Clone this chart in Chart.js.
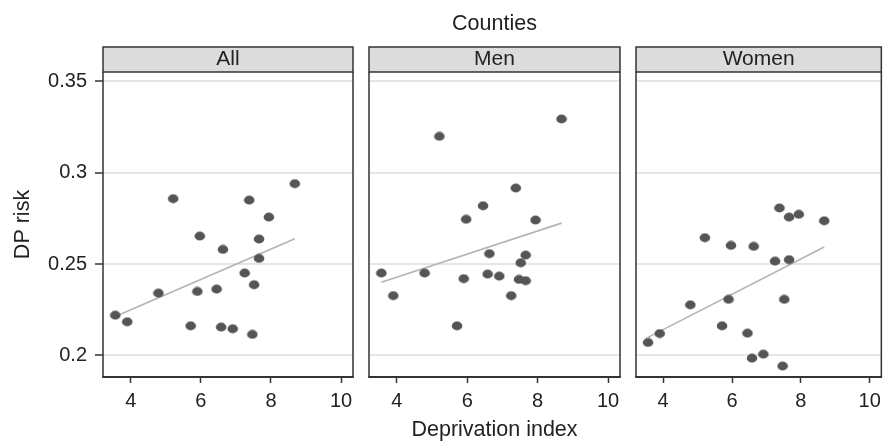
<!DOCTYPE html>
<html>
<head>
<meta charset="utf-8">
<script src="https://cdn.jsdelivr.net/npm/chart.js@4.4.1/dist/chart.umd.min.js"></script>
<style>
  html, body { margin: 0; padding: 0; background: #fff; }
  #wrap { position: relative; width: 887px; height: 443px; overflow: hidden; }
  #wrap canvas { position: absolute; top: 0; }
</style>
</head>
<body>
<div id="wrap">
  <canvas id="pAll" width="360" height="443" style="left:0px"></canvas>
  <canvas id="pMen" width="267" height="443" style="left:360px"></canvas>
  <canvas id="pWomen" width="260" height="443" style="left:627px"></canvas>
</div>
<script>
// Deprivation index of each county (shared by all three panels)
const deprivation = [3.56, 3.90, 4.79, 5.21, 5.71, 5.90, 5.97, 6.45, 6.58, 6.63,
                     6.91, 7.25, 7.38, 7.47, 7.52, 7.66, 7.66, 7.94, 8.68];

// DP risk per county
const riskAll   = [0.2220, 0.2184, 0.2341, 0.2858, 0.2162, 0.2350, 0.2653, 0.2363, 0.2155, 0.2580,
                   0.2146, 0.2451, 0.2850, 0.2115, 0.2387, 0.2637, 0.2531, 0.2757, 0.2940];
const riskMen   = [0.2451, 0.2327, 0.2451, 0.3199, 0.2162, 0.2420, 0.2745, 0.2819, 0.2445, 0.2557,
                   0.2434, 0.2327, 0.2916, 0.2416, 0.2507, 0.2549, 0.2409, 0.2741, 0.3294];
const riskWomen = [0.2071, 0.2120, 0.2277, 0.2644, 0.2162, 0.2307, 0.2602, 0.2122, 0.1985, 0.2597,
                   0.2007, 0.2516, 0.2807, 0.1942, 0.2307, 0.2757, 0.2524, 0.2772, 0.2737];

// Fitted line end points (x, y)
const fitAll   = [[3.56, 0.2213], [8.68, 0.2639]];
const fitMen   = [[3.56, 0.2401], [8.68, 0.2724]];
const fitWomen = [[3.56, 0.2099], [8.68, 0.2593]];

// Panel names and axis ticks
const panelNames   = ['All', 'Men', 'Women'];
const xTickValues  = [4, 6, 8, 10];
const yTickValues  = [0.2, 0.25, 0.3, 0.35];
const yTickLabels  = ['0.2', '0.25', '0.3', '0.35'];

const FONT = '"Liberation Sans", Arial, Helvetica, sans-serif';
const TEXT = '#222222';
const FRAME = '#333333';

// slightly flattened dot used as the marker
const dot = document.createElement('canvas');
dot.width = 12; dot.height = 10;
(function () {
  const g = dot.getContext('2d');
  g.fillStyle = '#555555';
  g.beginPath();
  g.ellipse(6, 5, 5.3, 4.4, 0, 0, Math.PI * 2);
  g.fill();
})();

// strip header, panel box and optional overall title
const panelFrame = {
  id: 'panelFrame',
  afterDatasetsDraw(chart, args, opts) {
    const { ctx, chartArea: a } = chart;
    ctx.save();
    const top = a.top - 25;
    ctx.fillStyle = '#dcdcdc';
    ctx.fillRect(a.left, top, a.right - a.left, a.top - top);
    ctx.strokeStyle = FRAME;
    ctx.lineWidth = 1.5;
    ctx.strokeRect(a.left, top, a.right - a.left, a.top - top);

    ctx.fillStyle = TEXT;
    ctx.font = '21px ' + FONT;
    ctx.textAlign = 'center';
    ctx.textBaseline = 'alphabetic';
    ctx.fillText(opts.label, (a.left + a.right) / 2, a.top - 7.5);

    ctx.beginPath();
    ctx.moveTo(a.left, a.top); ctx.lineTo(a.left, a.bottom);
    ctx.moveTo(a.right, a.top); ctx.lineTo(a.right, a.bottom);
    ctx.stroke();

    ctx.lineWidth = 2;
    ctx.beginPath();
    ctx.moveTo(a.left - 0.75, a.bottom); ctx.lineTo(a.right + 0.75, a.bottom);
    ctx.stroke();

    if (opts.title) {
      ctx.fillStyle = TEXT;
      ctx.font = '21.5px ' + FONT;
      ctx.fillText(opts.title, (a.left + a.right) / 2, 30);
    }
    ctx.restore();
  }
};

function toPoints(xs, ys) { return xs.map((x, i) => ({ x: x, y: ys[i] })); }
function toLine(pairs) { return pairs.map(p => ({ x: p[0], y: p[1] })); }

function makePanel(canvasId, idx, values, fit, cfg) {
  const first = idx === 0;
  return new Chart(document.getElementById(canvasId), {
    type: 'scatter',
    data: {
      datasets: [
        {
          data: toPoints(deprivation, values),
          pointStyle: dot,
          pointRadius: 5,
          pointHoverRadius: 5,
          backgroundColor: '#555555',
          borderWidth: 0,
          order: 1
        },
        {
          data: toLine(fit),
          showLine: true,
          borderColor: '#b4b4b4',
          borderWidth: 1.6,
          pointRadius: 0,
          fill: false,
          order: 2
        }
      ]
    },
    options: {
      responsive: false,
      animation: false,
      events: [],
      layout: { padding: { top: 72, left: 0, right: cfg.padRight, bottom: 0 } },
      plugins: {
        legend: { display: false },
        tooltip: { enabled: false },
        panelFrame: { label: panelNames[idx], title: cfg.title }
      },
      scales: {
        x: {
          type: 'linear',
          min: 3.21,
          max: 10.34,
          afterBuildTicks: s => { s.ticks = xTickValues.map(v => ({ value: v })); },
          afterFit: s => { s.height = 66; },
          border: { display: false },
          grid: { drawOnChartArea: false, drawTicks: true, tickLength: 6, tickColor: FRAME, tickWidth: 1.5 },
          ticks: { font: { family: FONT, size: 20 }, color: TEXT, padding: 6, maxRotation: 0,
                   callback: v => String(v) },
          title: { display: !!cfg.xTitle, text: cfg.xTitle || '', color: TEXT,
                   font: { family: FONT, size: 21.5 }, padding: { top: 0, bottom: 0 } }
        },
        y: {
          type: 'linear',
          min: 0.1882,
          max: 0.3551,
          afterBuildTicks: s => { s.ticks = yTickValues.map(v => ({ value: v })); },
          afterFit: s => { s.width = cfg.yWidth; },
          border: { display: false },
          grid: { color: '#e6e6e6', lineWidth: 2, drawTicks: first, tickLength: 8,
                  tickColor: FRAME, tickWidth: 1.5 },
          ticks: { display: first, font: { family: FONT, size: 20 }, color: TEXT, padding: 8,
                   callback: v => yTickLabels[yTickValues.indexOf(v)] },
          title: { display: first, text: 'DP risk', color: TEXT,
                   font: { family: FONT, size: 21.5 }, padding: { top: 10, bottom: 10 } }
        }
      }
    },
    plugins: [panelFrame]
  });
}

makePanel('pAll', 0, riskAll, fitAll, { yWidth: 103, padRight: 7 });
makePanel('pMen', 1, riskMen, fitMen, { yWidth: 9, padRight: 7, title: 'Counties', xTitle: 'Deprivation index' });
makePanel('pWomen', 2, riskWomen, fitWomen, { yWidth: 9, padRight: 1.5 });
</script>
</body>
</html>
